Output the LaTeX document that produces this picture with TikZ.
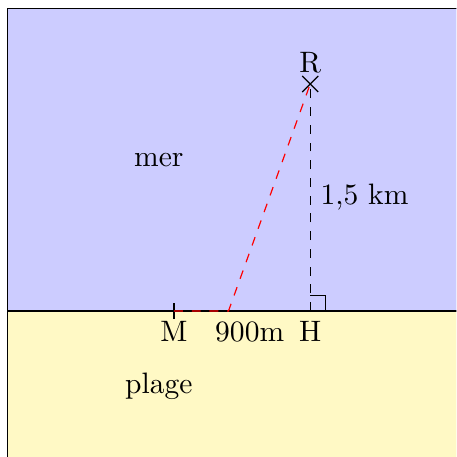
\documentclass[tikz,border=0pt]{standalone}
\usetikzlibrary{positioning, calc}
\definecolor{sable}{RGB}{255,249,197}

\begin{document}
\begin{tikzpicture}[x=1.8cm, y=1.8cm,
    zone/.style={draw, line width=0.4pt},
    chemin/.style={red, dashed},
    hauteur/.style={dashed}
]
\useasboundingbox (-2.05,-0.965) rectangle (0.965,2.055);
\clip (-2.05,-0.965) rectangle (0.965,2.055);

% zones
\fill[blue!20] (-2,0) rectangle (1.2,2);
\fill[sable] (-2,-1.2) rectangle (1.2,0);
\draw[zone] (1.2,2) -- (-2,2) -- (-2,-1.2);
\draw[zone] (-2,0) -- (1.2,0);
\node (mer) at (-1,1) {mer};
\node (plage) at (-1,-0.5) {plage};

% points
\coordinate (H) at (0,0);
\coordinate (R) at (0,1.5);
\coordinate (M) at (-0.9,0);
\coordinate (P) at (-0.54,0);

% marques
\draw ($(M)+(0,-0.05)$) -- ($(M)+(0,0.05)$);
\draw ($(R)+(-0.053,0.053)$) -- ($(R)+(0.053,-0.053)$);
\draw ($(R)+(-0.053,-0.053)$) -- ($(R)+(0.053,0.053)$);
\draw (0,0.1) -| (0.1,0);

% chemins
\draw[chemin] (M) -- (P) -- (R);
\draw[hauteur] (H) -- node[right] {1,5 km} (R);

% etiquettes
\node[above] (lR) at (R) {R};
\node[below] (lM) at (M) {M};
\node[below] (lH) at (H) {H};
\node[below] (dist) at (-0.4,0) {900m};
\end{tikzpicture}
\end{document}
